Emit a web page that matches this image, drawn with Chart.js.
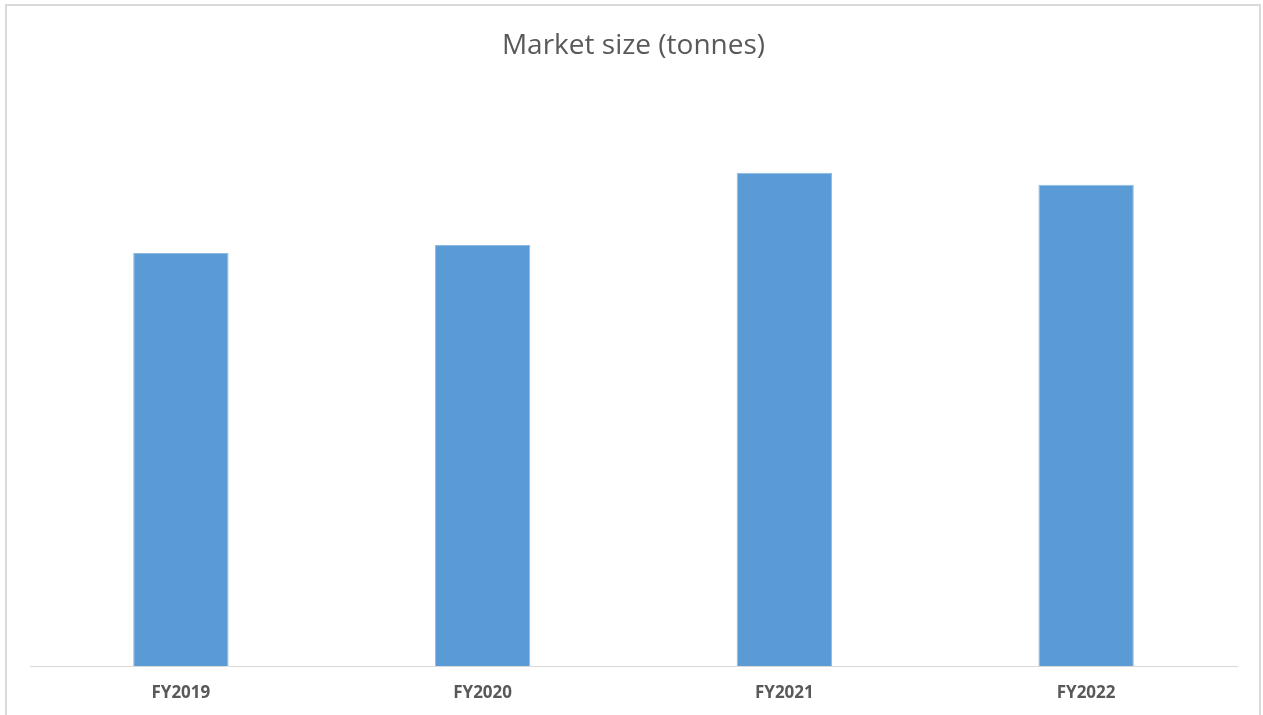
<!DOCTYPE html>
<html>
<head>
<meta charset="utf-8">
<script src="https://cdn.jsdelivr.net/npm/chart.js@4"></script>
<style>
  body { margin: 0; background: #fff; }
  #wrap { position: relative; width: 1263px; height: 715px; overflow: hidden; }
  #frame {
    position: absolute; left: 5px; top: 4px; width: 1252px; height: 740px;
    border: 2px solid #d9d9d9;
  }
  canvas { position: absolute; left: 0; top: 0; }
</style>
</head>
<body>
<div id="wrap">
  <div id="frame"></div>
  <canvas id="marketChart" width="1263" height="715"></canvas>
</div>
<script>
// значення (висота стовпців)
const years = ["FY2019", "FY2020", "FY2021", "FY2022"];
const marketSize = [412, 420, 492, 480];
const axisMax = 596;

const ctx = document.getElementById("marketChart").getContext("2d");

new Chart(ctx, {
  type: "bar",
  data: {
    labels: years,
    datasets: [
      {
        label: "Market size (tonnes)",
        data: marketSize,
        backgroundColor: "#5b9bd5",
        borderColor: "#8fbbe3",
        borderWidth: { left: 1, right: 1, top: 1, bottom: 0 },
        barPercentage: 0.316,
        categoryPercentage: 1,
      },
    ],
  },
  options: {
    responsive: false,
    animation: false,
    layout: { padding: { left: 30, right: 26, top: 0, bottom: 0 } },
    plugins: {
      legend: { display: false },
      tooltip: { enabled: false },
      title: {
        display: true,
        text: "Market size (tonnes)",
        color: "#595959",
        font: { family: "'Open Sans'", size: 28, weight: "normal" },
        padding: { top: 29, bottom: 6 },
      },
    },
    scales: {
      y: {
        display: false,
        min: 0,
        max: axisMax,
      },
      x: {
        grid: { display: false, drawTicks: false },
        border: { display: true, color: "#d9d9d9", width: 1 },
        ticks: {
          color: "#595959",
          padding: 17,
          font: { family: "'Open Sans'", size: 17, weight: "bold" },
        },
        afterFit: (scale) => {
          scale.height = 49;
        },
      },
    },
  },
});
</script>
</body>
</html>
